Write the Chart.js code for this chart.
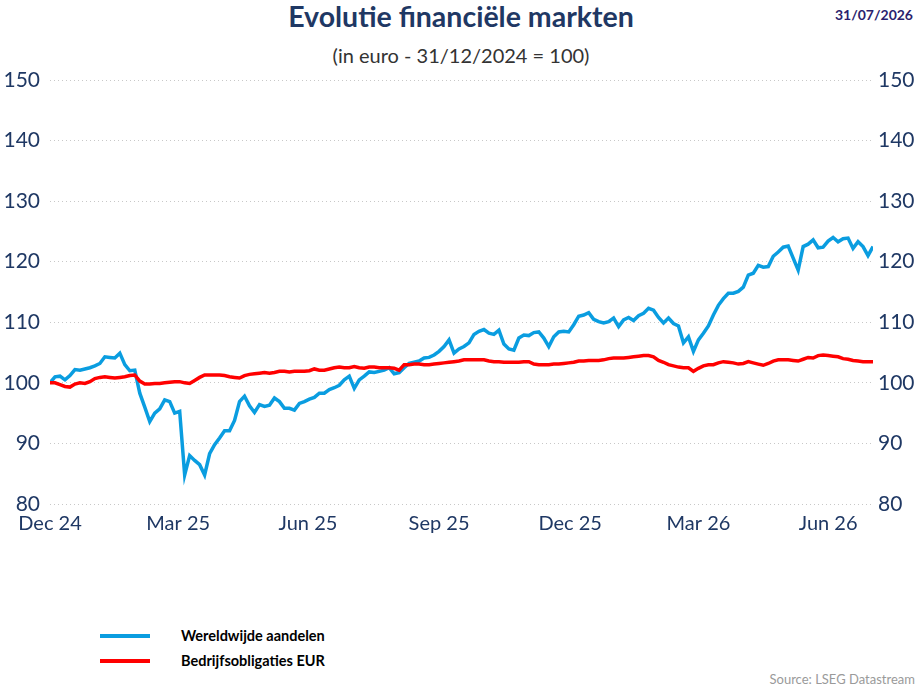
<!DOCTYPE html>
<html>
<head>
<meta charset="utf-8">
<script src="https://cdn.jsdelivr.net/npm/chart.js@4/dist/chart.umd.min.js"></script>
<style>
  html, body { margin: 0; padding: 0; background: #fff; }
  body { width: 922px; height: 686px; position: relative; overflow: hidden; font-family: Lato, "Open Sans", sans-serif; }
  #wrap { position: absolute; left: 0; top: 0; width: 922px; height: 560px; }
  .title { position: absolute; left: 0; width: 922px; top: -1px; text-align: center; font-size: 28.5px; font-weight: bold; color: #1f3864; }
  .subtitle { position: absolute; left: 0; width: 922px; top: 43px; text-align: center; font-size: 20px; color: #333; }
  .date { position: absolute; right: 9px; top: 6px; font-size: 14px; font-weight: bold; color: #2b1f6e; }
  .legend { position: absolute; left: 100px; top: 626px; font-size: 14.5px; font-weight: bold; color: #000; }
  .legend div { height: 25px; line-height: 20px; position: relative; padding-left: 81px; }
  .legend span { position: absolute; left: 0; top: 8px; width: 50px; height: 4px; }
  .source { position: absolute; right: 7px; top: 671px; font-size: 13px; color: #9a9a9a; }
</style>
</head>
<body>
<div class="title">Evolutie financiële markten</div>
<div class="subtitle">(in euro - 31/12/2024 = 100)</div>
<div class="date">31/07/2026</div>
<div id="wrap"><canvas id="marketChart"></canvas></div>
<div class="legend">
  <div><span style="background:#0a9de0"></span>Wereldwijde aandelen</div>
  <div><span style="background:#ff0000"></span>Bedrijfsobligaties EUR</div>
</div>
<div class="source">Source: LSEG Datastream</div>

<script>
// ---------- data (one point every 3.5 days from 31/12/2024) ----------
const stepDays = 3.5;
const tickDays = [0, 90, 181, 273, 365, 455, 546];
const tickLabels = ['Dec 24', 'Mar 25', 'Jun 25', 'Sep 25', 'Dec 25', 'Mar 26', 'Jun 26'];
const yTicks = [80, 90, 100, 110, 120, 130, 140, 150];

const equities = [
  100.0, 101.0, 101.1, 100.5, 101.2, 102.2, 102.1, 102.3, 102.5, 102.8,
  103.2, 104.3, 104.2, 104.1, 104.9, 103.0, 102.0, 102.1, 98.3, 96.0,
  93.6, 95.0, 95.7, 97.2, 96.9, 95.0, 95.3, 84.8, 88.0, 87.2,
  86.5, 84.8, 88.3, 89.8, 90.9, 92.1, 92.1, 93.8, 96.9, 97.8,
  96.2, 95.1, 96.4, 96.1, 96.3, 97.5, 96.9, 95.8, 95.8, 95.5,
  96.6, 96.9, 97.3, 97.6, 98.3, 98.3, 98.9, 99.2, 99.6, 100.5,
  101.1, 99.1, 100.5, 101.1, 101.8, 101.7, 101.9, 102.1, 102.5, 101.5,
  101.7, 102.5, 103.2, 103.4, 103.6, 104.1, 104.2, 104.6, 105.2, 106.0,
  107.1, 104.9, 105.6, 106.0, 106.6, 108.0, 108.5, 108.8, 108.2, 108.0,
  108.7, 106.4, 105.6, 105.4, 107.4, 107.9, 107.8, 108.3, 108.4, 107.4,
  106.0, 107.6, 108.4, 108.5, 108.4, 109.6, 111.0, 111.2, 111.6, 110.5,
  110.1, 109.9, 110.1, 110.7, 109.3, 110.4, 110.8, 110.3, 111.1, 111.5,
  112.3, 112.0, 110.8, 109.9, 110.7, 109.8, 109.4, 106.6, 107.6, 105.2,
  107.1, 108.2, 109.4, 111.2, 112.8, 113.9, 114.8, 114.8, 115.1, 115.8,
  117.8, 118.1, 119.4, 119.1, 119.2, 120.9, 121.6, 122.4, 122.6, 120.6,
  118.6, 122.5, 122.9, 123.6, 122.3, 122.4, 123.4, 124.0, 123.3, 123.8,
  123.9, 122.2, 123.3, 122.5, 121.0, 122.5
];

const bonds = [
  100.0, 100.0, 99.7, 99.4, 99.3, 99.8, 100.0, 99.9, 100.2, 100.7,
  100.9, 101.0, 100.9, 100.8, 100.9, 101.0, 101.2, 101.3, 100.3, 99.8,
  99.8, 99.9, 99.9, 100.0, 100.1, 100.2, 100.2, 100.0, 99.9, 100.4,
  100.9, 101.3, 101.3, 101.3, 101.3, 101.2, 101.0, 100.9, 100.8, 101.2,
  101.4, 101.5, 101.6, 101.7, 101.6, 101.7, 101.9, 101.9, 101.8, 101.9,
  101.9, 101.9, 102.0, 102.3, 102.1, 102.1, 102.3, 102.5, 102.6, 102.5,
  102.5, 102.7, 102.5, 102.4, 102.6, 102.6, 102.5, 102.5, 102.5, 102.4,
  102.1, 103.0, 103.0, 103.1, 103.1, 103.0, 103.0, 103.1, 103.2, 103.3,
  103.4, 103.5, 103.6, 103.8, 103.8, 103.8, 103.8, 103.8, 103.6, 103.5,
  103.5, 103.4, 103.4, 103.4, 103.4, 103.5, 103.5, 103.1, 103.0, 103.0,
  103.0, 103.1, 103.1, 103.2, 103.3, 103.4, 103.6, 103.6, 103.7, 103.7,
  103.7, 103.8, 104.0, 104.1, 104.1, 104.1, 104.2, 104.3, 104.4, 104.5,
  104.5, 104.3, 103.7, 103.4, 103.0, 102.8, 102.6, 102.5, 102.5, 101.9,
  102.4, 102.8, 103.0, 103.0, 103.3, 103.5, 103.4, 103.3, 103.1, 103.2,
  103.5, 103.3, 103.1, 102.9, 103.2, 103.6, 103.8, 103.8, 103.8, 103.7,
  103.6, 103.9, 104.2, 104.1, 104.5, 104.6, 104.5, 104.4, 104.3, 104.0,
  103.9, 103.7, 103.6, 103.5, 103.5, 103.5
];

// ---------- chart ----------
const tickColor = '#1f3864';
const toPoints = arr => arr.map((v, i) => ({ x: i * stepDays, y: v }));

new Chart(document.getElementById('marketChart'), {
    type: 'line',
    data: {
        datasets: [
            {
                label: 'Wereldwijde aandelen',
                data: toPoints(equities),
                borderColor: '#0a9de0',
                borderWidth: 3.5,
                pointRadius: 0,
                tension: 0,
                order: 1
            },
            {
                label: 'Bedrijfsobligaties EUR',
                data: toPoints(bonds),
                borderColor: '#ff0000',
                borderWidth: 3.5,
                pointRadius: 0,
                tension: 0,
                order: 0
            }
        ]
    },
    options: {
        responsive: true,
        maintainAspectRatio: false,
        animation: false,
        layout: { padding: { top: 80, left: 0, right: 0, bottom: 0 } },
        plugins: {
            legend: { display: false },
            tooltip: { enabled: false }
        },
        scales: {
            x: {
                type: 'linear',
                min: 0,
                max: equities.length * stepDays - stepDays,
                afterBuildTicks: scale => { scale.ticks = tickDays.map(d => ({ value: d })); },
                afterFit: scale => { scale.height = 56; },
                ticks: {
                    autoSkip: false,
                    maxRotation: 0,
                    padding: 8,
                    color: tickColor,
                    font: { family: 'Lato', size: 20 },
                    callback: (v, i) => tickLabels[i]
                },
                grid: { display: false, drawTicks: false },
                border: { display: false }
            },
            y: {
                position: 'left',
                min: 80,
                max: 150,
                afterBuildTicks: scale => { scale.ticks = yTicks.map(v => ({ value: v })); },
                afterFit: scale => { scale.width = 50; },
                ticks: {
                    padding: 10,
                    color: tickColor,
                    font: { family: 'Lato', size: 21 }
                },
                grid: { color: '#c8c8c8', lineWidth: 1, drawTicks: false },
                border: { display: false, dash: [1, 3] }
            },
            y2: {
                position: 'right',
                min: 80,
                max: 150,
                afterBuildTicks: scale => { scale.ticks = yTicks.map(v => ({ value: v })); },
                afterFit: scale => { scale.width = 49; },
                ticks: {
                    padding: 5,
                    color: tickColor,
                    font: { family: 'Lato', size: 21 }
                },
                grid: { display: false, drawTicks: false },
                border: { display: false }
            }
        }
    }
});
</script>
</body>
</html>
